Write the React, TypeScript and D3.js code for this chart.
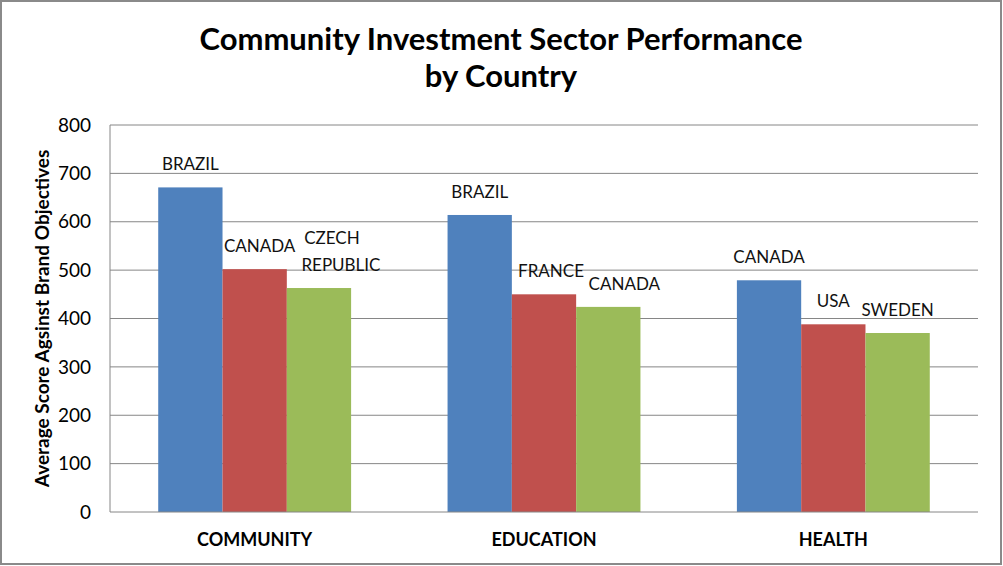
import * as d3 from "d3"

const categories = ["COMMUNITY", "EDUCATION", "HEALTH"]
const rankSlots = ["first", "second", "third"]
const firstValues = [671, 614, 479]
const secondValues = [502, 450, 388]
const thirdValues = [463, 424, 370]
const firstLabels = [["BRAZIL"], ["BRAZIL"], ["CANADA"]]
const secondLabels = [["CANADA"], ["FRANCE"], ["USA"]]
const thirdLabels = [["CZECH", "REPUBLIC"], ["CANADA"], ["SWEDEN"]]
const yTicks = [0, 100, 200, 300, 400, 500, 600, 700, 800]
const slotColors = ["#4F81BD", "#C0504D", "#9BBB59"]

const W = 1003
const H = 566
const margin = { top: 125, right: 25, bottom: 54, left: 110 }
const font = "Lato, 'Open Sans', sans-serif"

// hand-placed data labels in the original sit a little right of some bars
const labelNudge: Record<string, number[]> = {
  "COMMUNITY-second": [5],
  "COMMUNITY-third": [13, 22],
  "EDUCATION-second": [7],
  "EDUCATION-third": [16],
}

export default function App() {
  const innerW = W - margin.left - margin.right
  const innerH = H - margin.top - margin.bottom

  const x = d3.scaleBand().domain(categories).range([0, innerW]).paddingInner(0).paddingOuter(0)
  const inner = d3
    .scaleBand()
    .domain(rankSlots)
    .range([0, x.bandwidth()])
    .paddingOuter(0.75)
    .paddingInner(0)
  const y = d3.scaleLinear().domain([0, 800]).range([innerH, 0])

  const valueSets = [firstValues, secondValues, thirdValues]
  const labelSets = [firstLabels, secondLabels, thirdLabels]

  const bars = categories.flatMap((cat, i) =>
    rankSlots.map((slot, s) => ({
      cat,
      slot,
      s,
      value: valueSets[s][i],
      label: labelSets[s][i],
    })),
  )

  return (
    <svg
      width={W}
      height={H}
      style={{ position: "absolute", left: 0, top: 0, background: "#fff" }}
    >
      <rect x={1} y={1} width={W - 3} height={H - 3} fill="#fff" stroke="#8a8a8a" strokeWidth={2} />

      <text x={501} y={50} textAnchor="middle" fontFamily={font} fontWeight="bold" fontSize={31} fill="#000">
        Community Investment Sector Performance
      </text>
      <text x={501} y={87} textAnchor="middle" fontFamily={font} fontWeight="bold" fontSize={31} fill="#000">
        by Country
      </text>

      <text
        transform={`translate(49,${margin.top + innerH / 2}) rotate(-90)`}
        textAnchor="middle"
        fontFamily={font}
        fontWeight="bold"
        fontSize={19}
        fill="#000"
      >
        Average Score Agsinst Brand Objectives
      </text>

      <g transform={`translate(${margin.left},${margin.top})`}>
        {yTicks.map((t) => (
          <g key={t}>
            {t > 0 && <line x1={0} x2={innerW} y1={y(t)} y2={y(t)} stroke="#868686" strokeWidth={1} />}
            <text x={-19} y={y(t)} dy="0.35em" textAnchor="end" fontFamily={font} fontSize={19} fill="#000">
              {t}
            </text>
          </g>
        ))}

        {bars.map((b) => {
          const bx = (x(b.cat) || 0) + (inner(b.slot) || 0)
          return (
            <rect
              key={b.cat + b.slot}
              x={bx}
              y={y(b.value)}
              width={inner.bandwidth()}
              height={innerH - y(b.value)}
              fill={slotColors[b.s]}
            />
          )
        })}

        <line x1={0} x2={innerW} y1={innerH} y2={innerH} stroke="#868686" />
        <line x1={0} x2={0} y1={0} y2={innerH} stroke="#868686" />

        {bars.map((b) => {
          const cx = (x(b.cat) || 0) + (inner(b.slot) || 0) + inner.bandwidth() / 2
          const n = b.label.length
          const nudge = labelNudge[`${b.cat}-${b.slot}`] || []
          return (
            <text
              key={"l" + b.cat + b.slot}
              y={y(b.value) - 17 - (n - 1) * 27}
              textAnchor="middle"
              fontFamily={font}
              fontSize={17}
              fill="#111"
            >
              {b.label.map((ln, k) => (
                <tspan key={k} x={cx + (nudge[k] ?? nudge[0] ?? 0)} dy={k === 0 ? 0 : 27}>
                  {ln}
                </tspan>
              ))}
            </text>
          )
        })}

        {categories.map((c) => (
          <text
            key={c}
            x={(x(c) || 0) + x.bandwidth() / 2}
            y={innerH + 34}
            textAnchor="middle"
            fontFamily={font}
            fontWeight="bold"
            fontSize={18}
            fill="#000"
          >
            {c}
          </text>
        ))}
      </g>
    </svg>
  )
}
